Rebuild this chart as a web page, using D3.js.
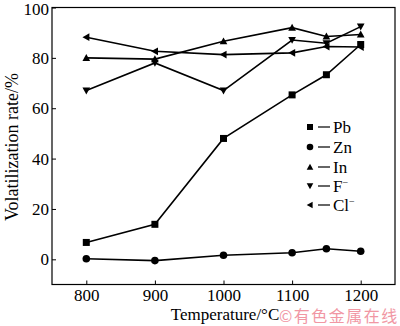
<!DOCTYPE html>
<html><head><meta charset="utf-8">
<script src="https://cdn.jsdelivr.net/npm/d3@7"></script>
<style>html,body{margin:0;padding:0;background:#fff;}svg{display:block;}</style>
</head><body>
<svg id="chart" width="400" height="326"></svg>
<script>
const temps = [800, 900, 1000, 1100, 1150, 1200];
const pb = [6.7, 13.9, 48, 65.3, 73.3, 85.3];
const zn = [0.2, -0.5, 1.6, 2.6, 4.2, 3.2];
const inn = [80, 79.5, 86.6, 92, 88.5, 89.3];
const fIon = [67, 78, 67, 87.1, 85.8, 92.4];
const clIon = [88.2, 82.6, 81.3, 82, 84.5, 84.3];
const xTicks = [800, 900, 1000, 1100, 1200];
const yTicks = [0, 20, 40, 60, 80, 100];
const seriesNames = ["Pb", "Zn", "In", "F", "Cl"];

const series = [
  {name: "Pb", sup: "", vals: pb, sym: "square"},
  {name: "Zn", sup: "", vals: zn, sym: "circle"},
  {name: "In", sup: "", vals: inn, sym: "up"},
  {name: "F", sup: "\u2212", vals: fIon, sym: "down"},
  {name: "Cl", sup: "\u2212", vals: clIon, sym: "left"}
];

const svg = d3.select("#chart");
const L = 52, R = 395, T = 7.5, B = 284.5;
const x = d3.scaleLinear().domain([750, 1250]).range([L, R]);
const y = d3.scaleLinear().domain([-10, 100]).range([B, T]);
const font = "'Liberation Serif','Times New Roman',serif";

// frame
svg.append("rect").attr("x", L).attr("y", T).attr("width", R - L).attr("height", B - T)
  .attr("fill", "none").attr("stroke", "#000").attr("stroke-width", 1.2);

const xAxis = svg.append("g").attr("transform", `translate(0,${B})`)
  .call(d3.axisBottom(x).tickValues(xTicks).tickSize(-4).tickPadding(4).tickFormat(d3.format("d")));
const yAxis = svg.append("g").attr("transform", `translate(${L},0)`)
  .call(d3.axisLeft(y).tickValues(yTicks).tickSize(-4).tickPadding(3).tickFormat(d3.format("d")));
[xAxis, yAxis].forEach(a => {
  a.select(".domain").remove();
  a.selectAll("line").attr("stroke", "#000").attr("stroke-width", 1);
  a.selectAll("text").attr("font-family", font).attr("font-size", 17).attr("fill", "#000");
});
yAxis.selectAll(".tick").filter(d => d === 100).select("text").attr("dy", "0.4em");

// titles
svg.append("text").attr("x", 225).attr("y", 320).attr("text-anchor", "middle")
  .attr("font-family", font).attr("font-size", 17).text("Temperature/\u00B0C");
svg.append("text").attr("transform", "translate(18,147) rotate(-90)").attr("text-anchor", "middle")
  .attr("font-family", font).attr("font-size", 18).text("Volatilization rate/%");

function symbol(g, type, cx, cy, s) {
  if (type === "square") {
    g.append("rect").attr("x", cx - s / 2).attr("y", cy - s / 2).attr("width", s).attr("height", s).attr("fill", "#000");
  } else if (type === "circle") {
    g.append("circle").attr("cx", cx).attr("cy", cy).attr("r", s / 2 + 0.3).attr("fill", "#000");
  } else {
    const h = s * 0.55;
    let pts;
    if (type === "up") pts = [[cx, cy - h], [cx - h, cy + h * 0.8], [cx + h, cy + h * 0.8]];
    if (type === "down") pts = [[cx, cy + h], [cx - h, cy - h * 0.8], [cx + h, cy - h * 0.8]];
    if (type === "left") pts = [[cx - h, cy], [cx + h * 0.8, cy - h], [cx + h * 0.8, cy + h]];
    g.append("polygon").attr("points", pts.map(p => p.join(",")).join(" ")).attr("fill", "#000");
  }
}

const line = d3.line().x((d, i) => x(temps[i])).y(d => y(d));
series.forEach(s => {
  svg.append("path").datum(s.vals).attr("d", line).attr("fill", "none")
    .attr("stroke", "#000").attr("stroke-width", 1.6);
  const g = svg.append("g");
  s.vals.forEach((v, i) => symbol(g, s.sym, x(temps[i]), y(v), 7));
});

// legend
const legY = [127, 147, 167, 186, 205];
series.forEach((s, i) => {
  const g = svg.append("g");
  symbol(g, s.sym, 310, legY[i], 6);
  g.append("line").attr("x1", 318).attr("x2", 330).attr("y1", legY[i]).attr("y2", legY[i])
    .attr("stroke", "#000").attr("stroke-width", 1.2);
  const t = g.append("text").attr("x", 333).attr("y", legY[i] + 6).attr("font-family", font).attr("font-size", 17);
  t.append("tspan").text(s.name);
  if (s.sup) t.append("tspan").attr("dy", -6).attr("font-size", 10).text(s.sup);
});

// watermark
svg.append("text").attr("x", 279).attr("y", 322).attr("font-family", "'Noto Sans CJK SC',sans-serif")
  .attr("font-size", 16).attr("letter-spacing", 1.5).attr("fill", "#f08c9a").attr("opacity", 0.9)
  .text("\u00A9有色金属在线");
</script>
</body></html>
